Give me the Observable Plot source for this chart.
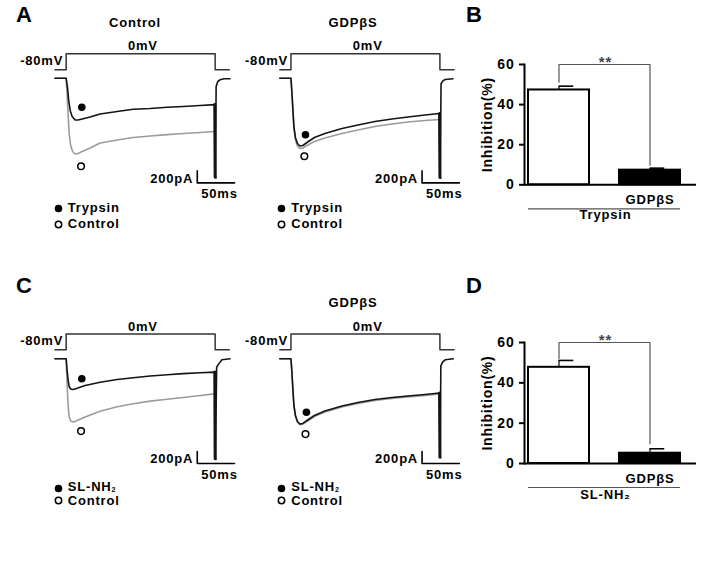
<!DOCTYPE html>
<html>
<head>
<meta charset="utf-8">
<script src="https://cdn.jsdelivr.net/npm/d3@7"></script>
<script src="https://cdn.jsdelivr.net/npm/@observablehq/plot@0.6"></script>
<style>
  html, body { margin: 0; padding: 0; background: #fff; }
  #fig { position: relative; width: 718px; height: 563px; background: #fff; overflow: hidden;
         font-family: "Liberation Sans", Arial, Helvetica, sans-serif; font-weight: bold; color: #000; }
  .letter { position: absolute; font-size: 22px; line-height: 22px; }
  .ttl { position: absolute; font-size: 13px; line-height: 13px; letter-spacing: 0.8px; white-space: nowrap; transform: translate(-50%, -50%); }
  .leg { position: absolute; font-size: 13px; line-height: 16px; height: 16px; letter-spacing: 0.8px; white-space: nowrap; display: flex; align-items: center; }
</style>
</head>
<body>
<div id="fig"></div>
<script>
// ---------------- DATA ----------------
// Voltage protocol (ms, mV)
const protocol = [[-15, -80], [0, -80], [0, 0], [200, 0], [200, -80], [219, -80]];
const protocolLabels = ["0mV", "-80mV"];
const scaleBarLabels = ["200pA", "50ms"];
const scaleBarT = 176, scaleBarI = -1745, scaleBarMs = 50, scaleBarPA = 200;

// Current traces (time ms, current pA)
const aLeftTrypsin = [[-15,0],[0,0],[2,-172],[3.4,-372],[5.4,-538],[8,-638],[12,-697],[16,-697],[21.5,-680],[32,-647],[45.6,-597],[68.5,-555],[90,-517],[112.8,-505],[135.6,-483],[157,-472],[180,-455],[199.5,-440],[200,-1650],[200.4,-1650],[201.3,-140],[203.5,-55],[206.5,-27],[212,-10],[220,-8]];
const aLeftControl = [[-15,0],[0,0],[1.3,-288],[2.7,-622],[4,-922],[6,-1122],[8.7,-1222],[12,-1263],[16,-1255],[21.5,-1222],[32,-1163],[45.6,-1080],[68.5,-1030],[90,-988],[112.8,-963],[135.6,-940],[157,-922],[180,-905],[199.5,-888]];
const aRightTrypsin = [[-15,0],[0,0],[1.3,-238],[2.7,-538],[4,-805],[6,-988],[8.7,-1088],[12,-1130],[16,-1122],[21.5,-1072],[31.5,-988],[45.6,-922],[68.5,-838],[90,-780],[112.8,-722],[135.6,-680],[157,-647],[180,-613],[199.5,-588],[200,-1655],[200.4,-1655],[201.5,-93],[204,-45],[207,-22],[217.5,-10]];
const aRightControl = [[-15,0],[0,0],[1.3,-255],[2.7,-572],[4,-838],[6,-1030],[8.7,-1130],[12,-1172],[16,-1163],[21.5,-1122],[31.5,-1055],[45.6,-997],[68.5,-922],[90,-863],[112.8,-805],[135.6,-763],[157,-730],[180,-705],[199.5,-688]];
const cLeftSL = [[-15,0],[0,0],[1.3,-195],[2.7,-362],[4,-462],[6,-503],[8.7,-512],[12,-503],[17.5,-478],[25.5,-445],[45.6,-390],[68.5,-345],[90,-315],[112.8,-287],[135.6,-265],[157,-247],[180,-232],[199.5,-222],[200,-1667],[200.4,-1667],[202,-140],[204.4,-93],[209,-17],[220,0]];
const cLeftControl = [[-15,0],[0,0],[1.3,-445],[2.7,-778],[4,-962],[6,-1037],[8.7,-1053],[12,-1045],[17.5,-1012],[25.5,-970],[45.6,-875],[68.5,-800],[90,-750],[112.8,-705],[135.6,-675],[157,-645],[180,-612],[199.5,-585]];
const cRightSL = [[-15,0],[0,0],[1.3,-228],[2.7,-528],[4,-778],[6,-945],[8.7,-1045],[12,-1087],[16,-1078],[21.5,-1028],[31.5,-945],[45.6,-870],[68.5,-787],[90,-728],[112.8,-678],[135.6,-645],[157,-620],[180,-595],[199.5,-570],[200,-1640],[200.4,-1640],[201.2,-120],[203.5,-55],[207,-17],[218,0]];
const cRightControl = [[-15,0],[0,0],[1.3,-230],[2.7,-535],[4,-790],[6,-955],[8.7,-1055],[12,-1097],[16,-1090],[21.5,-1045],[31.5,-962],[45.6,-888],[68.5,-805],[90,-745],[112.8,-695],[135.6,-662],[157,-635],[180,-610],[199.5,-585]];

// Trace annotation circles (time ms, current pA, filled?)
const aLeftMarkers = [[21, -483, true], [20, -1467, false]];
const aRightMarkers = [[19.5, -943, true], [18, -1300, false]];
const cLeftMarkers = [[21, -333, true], [20, -1205, false]];
const cRightMarkers = [[20.8, -890, true], [19.5, -1255, false]];

// Titles, legends
const panelLetters = ["A", "B", "C", "D"];
const traceTitles = ["Control", "GDPβS", "", "GDPβS"];
const legendA = ["Trypsin", "Control"];
const legendC = ["SL-NH<sub style='font-size:7px;vertical-align:-1px'>2</sub>", "Control"];

// Bar charts: Inhibition (%)
const barCats = ["Agonist", "Agonist + GDPβS"];
const barTickLabels = ["", "GDPβS"];
const barTicks = [0, 20, 40, 60];
const barYLabel = "Inhibition(%)";
const meanB = [47.3, 7.3];
const errB = [1.9, 1.0];
const bracketB = [51.2, 60, 9.8];
const groupB = "Trypsin";
const meanD = [47.7, 5.1];
const errD = [3.4, 2.2];
const bracketD = [52, 60, 9.8];
const groupD = "SL-NH₂";
const sigLabel = "**";

// ---------------- LAYOUT ----------------
const fig = document.getElementById("fig");
const FONT = "'Liberation Sans', Arial, Helvetica, sans-serif";
const K_T = 0.745;  // px per ms
const K_I = 0.06;   // px per pA
const BLACK = "#141414", GRAY = "#9b9b9b";
const baseStyle = {background: "transparent", fontFamily: FONT, fontWeight: "bold", fontSize: "13px", letterSpacing: "0.8px", color: "#000"};

function place(node, left, top) {
  node.style.position = "absolute";
  node.style.left = left + "px";
  node.style.top = top + "px";
  fig.appendChild(node);
}

function tracePanel(p) {
  const W = (p.tMax - p.tMin) * K_T;
  const left = p.x0 + p.tMin * K_T;
  const vH = 38;
  const vPlot = Plot.plot({
    width: W, height: vH,
    marginLeft: 0, marginRight: 0, marginTop: p.v0 - p.vTop, marginBottom: vH - (p.v80 - p.vTop),
    x: {domain: [p.tMin, p.tMax], axis: null},
    y: {domain: [-80, 0], axis: null},
    style: baseStyle,
    marks: [
      Plot.line(protocol, {x: d => d[0], y: d => d[1], stroke: "#333", strokeWidth: 1.5}),
      Plot.text([protocolLabels[0]], {x: 103, y: 0, dy: -7.5, fill: "#000"}),
      Plot.text([protocolLabels[1]], {x: 0, y: -80, dx: -3, dy: -9, textAnchor: "end", fill: "#000"})
    ]
  });
  place(vPlot, left, p.vTop);

  const iH = 130;
  const base = p.iBase - p.iTop;
  const bar = [[scaleBarT, scaleBarI + scaleBarPA], [scaleBarT, scaleBarI], [scaleBarT + scaleBarMs, scaleBarI]];
  const iPlot = Plot.plot({
    width: W, height: iH,
    marginLeft: 0, marginRight: 0, marginTop: 0, marginBottom: 0,
    x: {domain: [p.tMin, p.tMax], axis: null},
    y: {domain: [-(iH - base) / K_I, base / K_I], axis: null},
    style: baseStyle,
    marks: [
      Plot.line(p.gray, {x: d => d[0], y: d => d[1], stroke: GRAY, strokeWidth: 1.6}),
      Plot.line(p.black, {x: d => d[0], y: d => d[1], stroke: BLACK, strokeWidth: 1.6}),
      Plot.line(p.black.filter(d => d[0] >= 199.5 && d[0] <= 201), {x: d => d[0], y: d => d[1], stroke: BLACK, strokeWidth: 3}),
      Plot.dot(p.markers.filter(d => d[2]), {x: d => d[0], y: d => d[1], r: 3.8, fill: "#000", stroke: "none"}),
      Plot.dot(p.markers.filter(d => !d[2]), {x: d => d[0], y: d => d[1], r: 3.3, fill: "#fff", stroke: "#000", strokeWidth: 1.5}),
      Plot.line(bar, {x: d => d[0], y: d => d[1], stroke: "#000", strokeWidth: 1.6}),
      Plot.text([scaleBarLabels[0]], {x: scaleBarT, y: scaleBarI, dx: -4, dy: -4.5, textAnchor: "end", fill: "#000"}),
      Plot.text([scaleBarLabels[1]], {x: scaleBarT, y: scaleBarI, dx: 4, dy: 11, textAnchor: "start", fill: "#000"})
    ]
  });
  place(iPlot, left, p.iTop);
}

function legendRows(x, ys, labels) {
  labels.forEach((lab, i) => {
    const filled = i === 0;
    const d = document.createElement("div");
    d.className = "leg";
    d.innerHTML = `<svg width="9" height="9" style="margin-right:5px;display:block"><circle cx="4.5" cy="4.5" r="${filled ? 3.8 : 3.2}" fill="${filled ? "#000" : "#fff"}" stroke="#000" stroke-width="${filled ? 0 : 1.5}"/></svg><span>${lab}</span>`;
    place(d, x - 4.5, ys[i] - 8);
  });
}

function barPanel(p) {
  const W = 250, H = 190;
  const range = [60, 213], pi = 0.328;
  const step = (range[1] - range[0]) / (barCats.length - pi);
  const bw = step * (1 - pi);
  const rows = barCats.map((c, i) => ({cat: c, label: barTickLabels[i], mean: p.mean[i], hi: p.mean[i] + p.err[i]}));
  const bracket = [
    {cat: barCats[0], v: p.bracket[0]}, {cat: barCats[0], v: p.bracket[1]},
    {cat: barCats[1], v: p.bracket[1]}, {cat: barCats[1], v: p.bracket[2]}
  ];
  const plot = Plot.plot({
    width: W, height: H,
    marginLeft: 56, marginRight: 22, marginTop: 24, marginBottom: p.mb,
    x: {domain: barCats, range, paddingInner: pi, paddingOuter: 0, axis: null},
    y: {domain: [0, 60], axis: null},
    style: baseStyle,
    marks: [
      Plot.ruleX(rows, {x: "cat", y1: "mean", y2: "hi", stroke: "#000", strokeWidth: 1.2}),
      Plot.ruleY(rows, {x1: "cat", x2: "cat", y: "hi", insetLeft: bw / 2, insetRight: bw / 2 - 15, stroke: "#000", strokeWidth: 1.6}),
      Plot.barY(rows.slice(0, 1), {x: "cat", y: "mean", fill: "#fff", stroke: "#000", strokeWidth: 2}),
      Plot.barY(rows.slice(1), {x: "cat", y: "mean", fill: "#000", stroke: "#000", strokeWidth: 2}),
      Plot.line(bracket, {x: "cat", y: "v", stroke: "#555", strokeWidth: 1.2}),
      Plot.text([sigLabel], {frameAnchor: "top", dx: -5, dy: -8, fill: "#444", fontSize: 15}),
      Plot.ruleY([0], {stroke: "#000", strokeWidth: 2}),
      Plot.frame({anchor: "left", stroke: "#000", strokeWidth: 2}),
      Plot.axisY({ticks: barTicks, tickSize: 5, tickPadding: 5, fontSize: 14, strokeWidth: 2, label: null, tickFormat: d => String(d)}),
      Plot.text([barYLabel], {frameAnchor: "left", textAnchor: "middle", lineAnchor: "middle", rotate: -90, dx: -37, fontSize: 14}),
      Plot.text(rows, {x: "cat", y: 0, text: "label", dy: 15}),
      Plot.ruleY([{a: barCats[0], b: barCats[1]}], {x1: "a", x2: "b", y: 0, dy: 24, stroke: "#555", strokeWidth: 1.2}),
      Plot.text([p.group], {frameAnchor: "bottom", dx: -5, dy: p.groupDy})
    ]
  });
  place(plot, 468, p.top);
}

// ---------------- DRAW ----------------
tracePanel({x0: 66, tMin: -68, tMax: 232, vTop: 36, v0: 53.3, v80: 69.3, iTop: 74, iBase: 77.7, black: aLeftTrypsin, gray: aLeftControl, markers: aLeftMarkers});
tracePanel({x0: 290.5, tMin: -61, tMax: 232, vTop: 36, v0: 53.3, v80: 69.3, iTop: 74, iBase: 77.7, black: aRightTrypsin, gray: aRightControl, markers: aRightMarkers});
tracePanel({x0: 66, tMin: -68, tMax: 232, vTop: 316, v0: 333.6, v80: 349.3, iTop: 354, iBase: 358.3, black: cLeftSL, gray: cLeftControl, markers: cLeftMarkers});
tracePanel({x0: 290.5, tMin: -61, tMax: 232, vTop: 316, v0: 333.6, v80: 349.3, iTop: 354, iBase: 358.3, black: cRightSL, gray: cRightControl, markers: cRightMarkers});

barPanel({top: 40, mb: 45.7, mean: meanB, err: errB, bracket: bracketB, group: groupB, groupDy: 34});
barPanel({top: 318, mb: 45, mean: meanD, err: errD, bracket: bracketD, group: groupD, groupDy: 35});

legendRows(58.3, [208.3, 224], legendA);
legendRows(281.7, [208.3, 224], legendA);
legendRows(58.3, [488, 500.5], legendC);
legendRows(281.7, [488.3, 500.5], legendC);

[[16, 4], [466, 4], [16, 275], [466, 275]].forEach(([x, y], i) => {
  const d = document.createElement("div");
  d.className = "letter";
  d.textContent = panelLetters[i];
  place(d, x, y);
});
[[135, 22], [353, 22], [135, 302], [353, 302]].forEach(([x, y], i) => {
  if (!traceTitles[i]) return;
  const d = document.createElement("div");
  d.className = "ttl";
  d.textContent = traceTitles[i];
  place(d, x, y);
});
</script>
</body>
</html>
